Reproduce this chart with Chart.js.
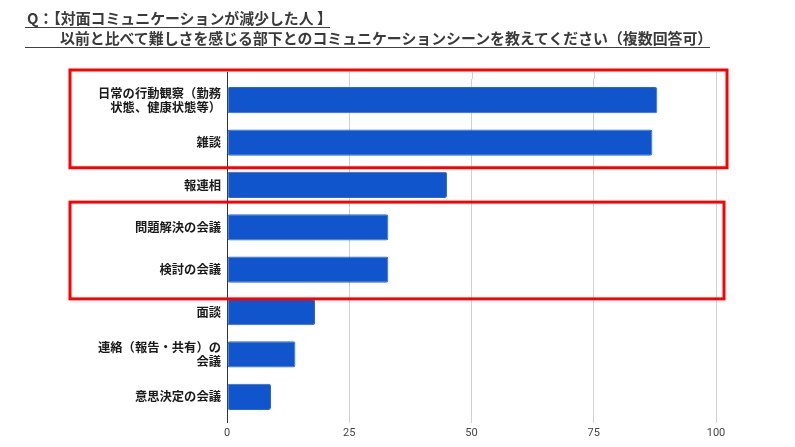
<!DOCTYPE html>
<html>
<head>
<meta charset="utf-8">
<script src="https://cdn.jsdelivr.net/npm/chart.js@4"></script>
<style>
  body { margin: 0; background: #fff; }
  #wrap { position: relative; width: 795px; height: 447px; overflow: hidden; }
  #chart { position: absolute; left: 0; top: 0; }
  .ttl {
    position: absolute; left: 25px; color: #3a3a3a;
    font-family: "Noto Sans CJK JP", sans-serif; font-weight: bold;
    font-size: 14.9px; line-height: 18px; white-space: nowrap;
    border-bottom: 1.5px solid #404040;
  }
</style>
</head>
<body>
<div id="wrap">
  <canvas id="chart" width="795" height="447"></canvas>
  <div class="ttl" style="top:9px;width:303px;padding-left:2px;">Q：【対面コミュニケーションが減少した人 】</div>
  <div class="ttl" style="top:29px;width:650px;padding-left:35px;">以前と比べて難しさを感じる部下とのコミュニケーションシーンを教えてください（複数回答可）</div>
</div>
<script>
document.addEventListener('DOMContentLoaded', function () {

    const categories = [
        ['日常の行動観察（勤務', '状態、健康状態等）'],
        '雑談',
        '報連相',
        '問題解決の会議',
        '検討の会議',
        '面談',
        ['連絡（報告・共有）の', '会議'],
        '意思決定の会議'
    ];
    const values = [88, 87, 45, 33, 33, 18, 14, 9];
    const xTicks = [0, 25, 50, 75, 100];

    // red highlight frames: first and last category index
    const frames = [
        { from: 0, to: 1, padTop: 9, padBottom: 4, right: 727 },
        { from: 3, to: 4, padTop: 4, padBottom: 8, right: 724 }
    ];

    const framePlugin = {
        id: 'frames',
        beforeDatasetsDraw(chart) {
            // extend axis and grid lines a bit above the plot like the original
            const c = chart.ctx, a = chart.chartArea, xs = chart.scales.x;
            c.save();
            c.lineWidth = 1;
            c.strokeStyle = '#d0d0d0';
            xTicks.slice(1).forEach(v => {
                const x = Math.round(xs.getPixelForValue(v)) + 0.5;
                c.beginPath(); c.moveTo(x, a.top - 7); c.lineTo(x, a.top); c.stroke();
            });
            c.strokeStyle = '#333';
            const x0 = Math.round(xs.getPixelForValue(0)) + 0.5;
            c.beginPath(); c.moveTo(x0, a.top - 7); c.lineTo(x0, a.bottom + 5); c.stroke();
            c.restore();
        },
        afterDraw(chart) {
            const c = chart.ctx, ys = chart.scales.y;
            const half = (ys.getPixelForValue(1) - ys.getPixelForValue(0)) / 2;
            c.save();
            c.strokeStyle = '#ff0000';
            c.lineWidth = 3;
            frames.forEach(f => {
                const top = ys.getPixelForValue(f.from) - half - f.padTop;
                const bottom = ys.getPixelForValue(f.to) + half + f.padBottom;
                c.strokeRect(70, top, f.right - 70, bottom - top);
            });
            c.restore();
        }
    };

    const ctx = document.getElementById('chart').getContext('2d');
    new Chart(ctx, {
        type: 'bar',
        data: {
            labels: categories,
            datasets: [{
                data: values,
                backgroundColor: '#1155cc',
                borderColor: '#2a66d6',
                borderWidth: 1,
                borderRadius: 2,
                borderSkipped: false,
                barPercentage: 0.62,
                categoryPercentage: 1
            }]
        },
        options: {
            indexAxis: 'y',
            responsive: false,
            animation: false,
            layout: { padding: { top: 79, right: 79, bottom: 0, left: 0 } },
            plugins: { legend: { display: false }, tooltip: { enabled: false } },
            scales: {
                x: {
                    min: 0,
                    max: 100,
                    afterBuildTicks: s => { s.ticks = xTicks.map(v => ({ value: v })); },
                    afterFit: s => { s.height = 29; },
                    border: { display: false },
                    grid: { color: '#d0d0d0', tickLength: 5, drawOnChartArea: true },
                    ticks: {
                        padding: 4,
                        color: '#444',
                        font: { family: 'Roboto, Arial, sans-serif', size: 11 }
                    }
                },
                y: {
                    afterFit: s => { s.width = 227; },
                    border: { display: false },
                    grid: { display: false, drawTicks: false },
                    ticks: {
                        padding: 6,
                        color: '#1a1a1a',
                        font: { family: '"Noto Sans CJK JP", sans-serif', size: 12.3, weight: 'bold', lineHeight: 1.1 }
                    }
                }
            }
        },
        plugins: [framePlugin]
    });
});
</script>
</body>
</html>
